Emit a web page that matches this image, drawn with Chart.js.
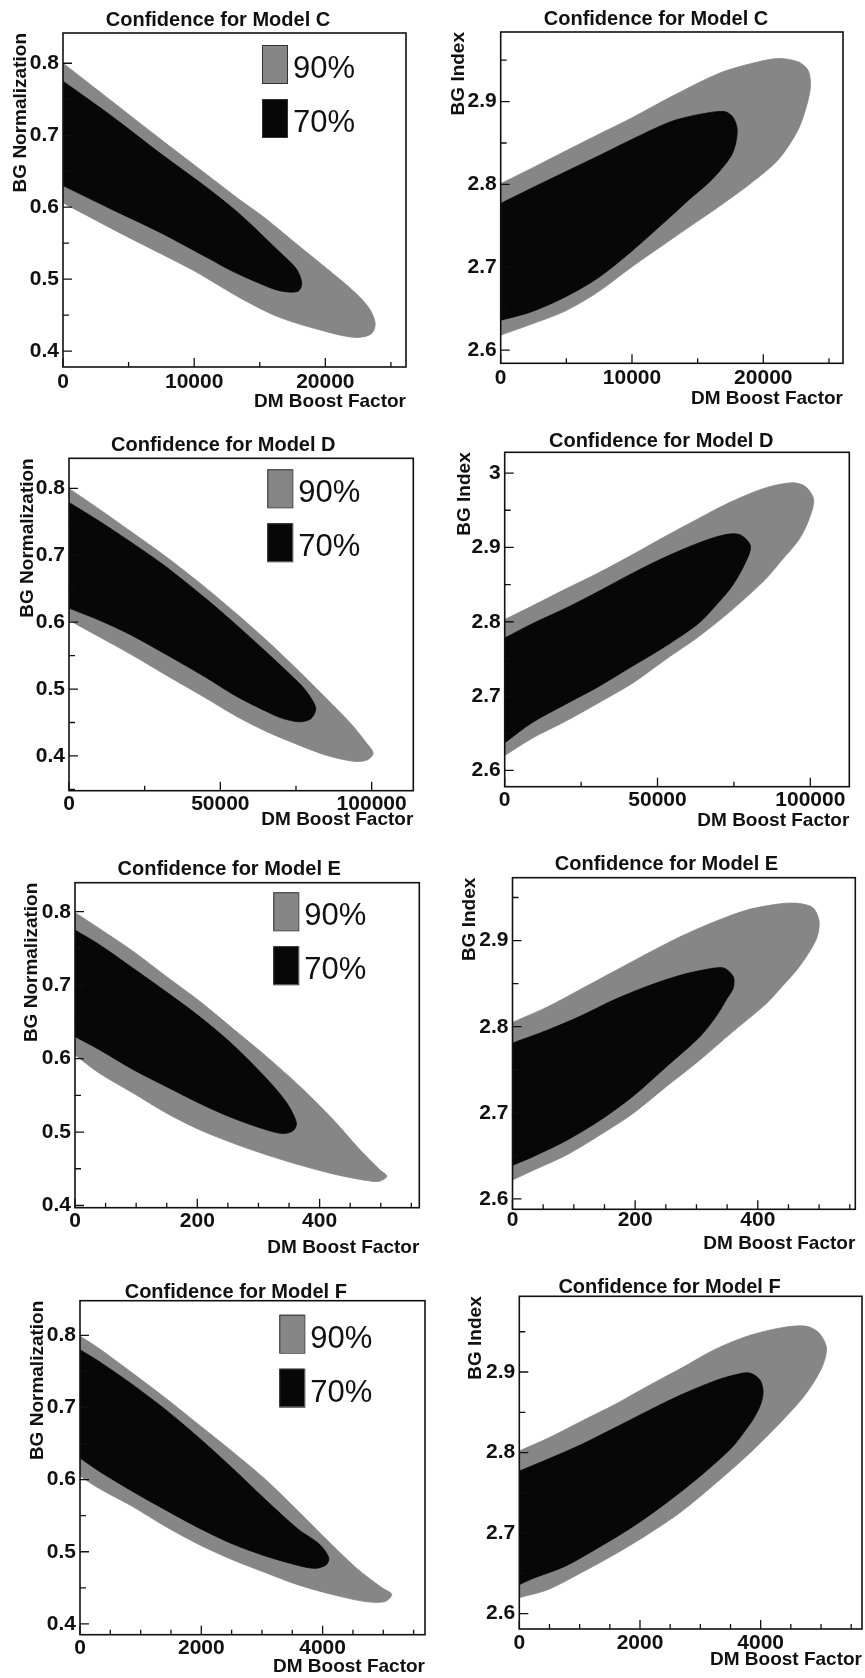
<!DOCTYPE html>
<html>
<head>
<meta charset="utf-8">
<script src="https://cdn.jsdelivr.net/npm/chart.js@4.4.1/dist/chart.umd.min.js"></script>
<style>
  html, body { margin: 0; padding: 0; background: #fff; overflow: hidden; }
  #page { position: relative; width: 865px; height: 1678px; }
  #page canvas { position: absolute; }
</style>
</head>
<body>
<div id="page"></div>
<script>
// contour edges as [DM boost factor, value]: upper edge left->right, then lower edge back to x = 0
const cNorm90 = [[0,0.800],[3600,0.749],[7400,0.695],[11200,0.642],[13500,0.610],[15250,0.587],[17800,0.549],[20300,0.512],[22350,0.480],[23400,0.458],[23800,0.438],
  [23500,0.424],[22350,0.419],[20300,0.426],[16500,0.447],[13500,0.474],[9950,0.512],[4900,0.559],[0,0.606]];
const cNorm70 = [[0,0.775],[3600,0.728],[7400,0.675],[11200,0.624],[13500,0.590],[16500,0.538],[17800,0.514],[18200,0.494],
  [17900,0.483],[16500,0.484],[14750,0.496],[12700,0.513],[11200,0.528],[7400,0.565],[3600,0.598],[0,0.630]];
const cIndex90 = [[0,2.801],[2300,2.819],[4900,2.840],[7400,2.860],[9950,2.880],[13000,2.906],[16600,2.934],[19100,2.946],[21150,2.952],[22650,2.948],[23400,2.938],[23600,2.920],
  [23350,2.898],[22650,2.866],[21150,2.830],[19100,2.802],[16600,2.773],[13200,2.736],[9950,2.700],[7400,2.670],[4900,2.647],[2300,2.631],[0,2.618]];
const cIndex70 = [[0,2.777],[2300,2.795],[4900,2.815],[7400,2.834],[9950,2.854],[13000,2.876],[15300,2.885],[17000,2.888],[17650,2.882],[18000,2.868],
  [17900,2.850],[17500,2.833],[16100,2.806],[14300,2.781],[13000,2.762],[9950,2.719],[7400,2.687],[4900,2.664],[2300,2.646],[0,2.636]];

const dNorm90 = [[0,0.800],[10000,0.769],[20000,0.737],[32000,0.698],[45000,0.652],[55000,0.614],[65000,0.574],[75000,0.531],[85000,0.486],[93000,0.449],[98000,0.421],[100500,0.404],
  [98500,0.394],[94000,0.392],[85000,0.401],[75000,0.418],[65000,0.437],[55000,0.460],[45000,0.487],[32000,0.521],[20000,0.553],[10000,0.578],[0,0.603]];
const dNorm70 = [[0,0.779],[10000,0.751],[20000,0.721],[32000,0.683],[45000,0.636],[55000,0.597],[65000,0.556],[73000,0.522],[78000,0.499],[81500,0.472],
  [80000,0.456],[76000,0.451],[70000,0.457],[65000,0.467],[55000,0.490],[45000,0.518],[32000,0.552],[20000,0.582],[10000,0.603],[0,0.621]];
const dIndex90 = [[0,2.803],[8900,2.821],[19900,2.844],[30800,2.866],[41700,2.890],[52600,2.915],[63500,2.939],[74400,2.962],[85300,2.980],[94000,2.987],[98400,2.982],[101100,2.964],
  [99500,2.937],[96200,2.910],[90700,2.883],[85300,2.857],[74400,2.816],[63500,2.780],[52600,2.749],[41700,2.717],[30800,2.691],[19900,2.666],[8900,2.643],[0,2.620]];
const dIndex70 = [[0,2.778],[8900,2.797],[19900,2.818],[30800,2.841],[41700,2.865],[52600,2.887],[63500,2.906],[72000,2.917],[77000,2.917],[80400,2.902],
  [78700,2.879],[74400,2.848],[68900,2.821],[63500,2.798],[52600,2.767],[41700,2.740],[30800,2.713],[19900,2.689],[8900,2.664],[0,2.637]];

const eNorm90 = [[0,0.799],[40,0.777],[95,0.746],[149,0.712],[204,0.678],[258,0.641],[313,0.603],[368,0.562],[422,0.517],[466,0.476],[498,0.449],[510,0.440],
  [498,0.433],[477,0.434],[422,0.443],[368,0.455],[313,0.469],[258,0.485],[204,0.503],[149,0.526],[95,0.553],[40,0.580],[0,0.605]];
const eNorm70 = [[0,0.775],[40,0.755],[95,0.723],[149,0.691],[204,0.657],[258,0.619],[313,0.573],[346,0.540],[362,0.513],
  [357,0.502],[340,0.498],[313,0.503],[258,0.519],[204,0.539],[149,0.562],[95,0.585],[40,0.612],[0,0.630]];
const eIndex90 = [[0,2.805],[57,2.823],[110,2.843],[165,2.864],[220,2.885],[275,2.905],[330,2.922],[385,2.936],[440,2.943],[468,2.943],[490,2.938],[500,2.922],
  [495,2.901],[468,2.870],[440,2.847],[414,2.827],[359,2.794],[305,2.761],[250,2.730],[196,2.699],[142,2.674],[88,2.651],[33,2.633],[0,2.622]];
const eIndex70 = [[0,2.781],[57,2.796],[110,2.812],[165,2.831],[220,2.847],[275,2.860],[320,2.867],[345,2.868],[360,2.858],
  [360,2.845],[350,2.833],[332,2.812],[305,2.788],[250,2.753],[196,2.719],[142,2.691],[88,2.668],[33,2.649],[0,2.639]];

const fNorm90 = [[0,0.799],[310,0.782],[860,0.748],[1410,0.713],[1960,0.676],[2510,0.639],[3060,0.600],[3600,0.556],[4150,0.510],[4590,0.475],[4980,0.450],[5140,0.441],
  [5030,0.431],[4700,0.431],[4150,0.441],[3600,0.454],[3060,0.471],[2510,0.489],[1960,0.510],[1410,0.535],[860,0.563],[310,0.588],[0,0.605]];
const fNorm70 = [[0,0.780],[310,0.764],[860,0.732],[1410,0.697],[1960,0.658],[2510,0.616],[3060,0.572],[3600,0.531],[3940,0.511],[4100,0.492],
  [4060,0.482],[3880,0.477],[3600,0.481],[3060,0.494],[2510,0.511],[1960,0.533],[1410,0.558],[860,0.584],[310,0.612],[0,0.630]];
const fIndex90 = [[0,2.802],[480,2.818],[1030,2.839],[1590,2.860],[2140,2.883],[2690,2.905],[3240,2.928],[3800,2.945],[4350,2.955],[4740,2.957],[4960,2.949],[5090,2.930],
  [5010,2.905],[4740,2.872],[4350,2.839],[3800,2.798],[3240,2.761],[2690,2.727],[2140,2.699],[1590,2.674],[1030,2.651],[480,2.630],[0,2.620]];
const fIndex70 = [[0,2.777],[480,2.792],[1030,2.810],[1590,2.831],[2140,2.852],[2690,2.872],[3240,2.889],[3500,2.895],[3800,2.899],[3980,2.891],[4040,2.876],
  [4000,2.860],[3880,2.842],[3740,2.827],[3520,2.806],[2970,2.769],[2410,2.736],[1860,2.707],[1310,2.682],[760,2.659],[200,2.643],[0,2.636]];

// labelled ticks
const cTicksX = [0, 10000, 20000];
const dTicksX = [0, 50000, 100000];
const eTicksX = [0, 200, 400];
const fTicksX = [0, 2000, 4000];
const normTicksY = [0.4, 0.5, 0.6, 0.7, 0.8];
const indexTicksY = [2.6, 2.7, 2.8, 2.9];
const indexTicksYD = [2.6, 2.7, 2.8, 2.9, 3];

const levels = ['90%', '70%'];
const xTitle = 'DM Boost Factor';

const GREY = '#868686';
const BLACK = '#070707';
const INK = '#111';
const FONT = "'Liberation Sans', Arial, Helvetica, sans-serif";
const AXIS_LH = 19 * 1.2;
const TICK_LH = 21 * 1.2;

// page layout, in page pixels: cell = [left, top, width], frame = [left, top, right, bottom]
const panels = [
  { model: 'C', yTitle: 'BG Normalization', outer: cNorm90, inner: cNorm70, xTicks: cTicksX, yTicks: normTicksY, xSub: 2,
    cell: [0, 0, 432], frame: [63, 33, 406, 367], x: [0, 26150], y: [0.378, 0.842],
    title: [218, 26], yTitleX: 20.7, xTickY: 382.7, xTitleY: 401.3, legend: [262, 45] },
  { model: 'C', yTitle: 'BG Index', outer: cIndex90, inner: cIndex70, xTicks: cTicksX, yTicks: indexTicksY, xSub: 2,
    cell: [432, 0, 433], frame: [500.7, 32, 843, 363.3], x: [0, 26070], y: [2.584, 2.984],
    title: [656, 24.5], yTitleX: 459, xTickY: 378.3, xTitleY: 398.3 },
  { model: 'D', yTitle: 'BG Normalization', outer: dNorm90, inner: dNorm70, xTicks: dTicksX, yTicks: normTicksY, xSub: 2,
    cell: [0, 420, 432], frame: [69, 458.3, 413.3, 790.7], x: [0, 113760], y: [0.348, 0.845],
    title: [223.3, 451.2], yTitleX: 27.5, xTickY: 803.8, xTitleY: 819.3, legend: [267.3, 469.3] },
  { model: 'D', yTitle: 'BG Index', outer: dIndex90, inner: dIndex70, xTicks: dTicksX, yTicks: indexTicksYD, xSub: 2,
    cell: [432, 420, 433], frame: [504.7, 452.3, 849.3, 786.7], x: [0, 112760], y: [2.578, 3.028],
    title: [661.2, 447.3], yTitleX: 465, xTickY: 800, xTitleY: 820.3 },
  { model: 'E', yTitle: 'BG Normalization', outer: eNorm90, inner: eNorm70, xTicks: eTicksX, yTicks: normTicksY, xSub: 4,
    cell: [0, 840, 432], frame: [75, 882.7, 419.3, 1207.7], x: [0, 563], y: [0.397, 0.8395],
    title: [229.2, 874.5], yTitleX: 32.2, xTickY: 1221.7, xTitleY: 1247.5, legend: [273.3, 892.3] },
  { model: 'E', yTitle: 'BG Index', outer: eIndex90, inner: eIndex70, xTicks: eTicksX, yTicks: indexTicksY, xSub: 4,
    cell: [432, 840, 433], frame: [512.5, 877.7, 855.3, 1209.3], x: [0, 559], y: [2.588, 2.973],
    title: [666.5, 869.8], yTitleX: 469.5, xTickY: 1220, xTitleY: 1243.7 },
  { model: 'F', yTitle: 'BG Normalization', outer: fNorm90, inner: fNorm70, xTicks: fTicksX, yTicks: normTicksY, xSub: 4,
    cell: [0, 1258, 432], frame: [80, 1300.7, 425, 1634.7], x: [0, 5688], y: [0.385, 0.848],
    title: [235.8, 1297.5], yTitleX: 38.2, xTickY: 1648.5, xTitleY: 1667.2, legend: [279.3, 1314.7] },
  { model: 'F', yTitle: 'BG Index', outer: fIndex90, inner: fIndex70, xTicks: fTicksX, yTicks: indexTicksY, xSub: 4,
    cell: [432, 1258, 433], frame: [519.3, 1296.3, 862, 1629], x: [0, 5679], y: [2.581, 2.994],
    title: [669.5, 1292.5], yTitleX: 475.7, xTickY: 1643, xTitleY: 1660.2 },
];

// minor ticks subdividing the labelled ones, continued past both ends
function tickMarks(scale, labelled, sub) {
  const d = (labelled[1] - labelled[0]) / sub, out = [];
  for (let n = Math.ceil((scale.min - labelled[0]) / d - 1e-6); labelled[0] + n * d <= scale.max + 1e-9; n++) {
    out.push({ v: labelled[0] + n * d, major: n % sub === 0 });
  }
  return out;
}

// ROOT-style frame: inward ticks on bottom/left, box, title and in-frame legend
const rootStyle = {
  id: 'rootStyle',
  afterDatasetsDraw(chart, args, o) {
    const { ctx, chartArea: a, scales: { x, y } } = chart;
    ctx.save();
    ctx.strokeStyle = INK;
    ctx.lineWidth = 1.3;
    ctx.beginPath();
    for (const t of tickMarks(x, o.xTicks, o.xSub)) {
      const px = x.getPixelForValue(t.v);
      ctx.moveTo(px, a.bottom);
      ctx.lineTo(px, a.bottom - (t.major ? 9 : 5));
    }
    for (const t of tickMarks(y, o.yTicks, 2)) {
      const py = y.getPixelForValue(t.v);
      ctx.moveTo(a.left, py);
      ctx.lineTo(a.left + (t.major ? 9 : 6), py);
    }
    ctx.stroke();
    ctx.lineWidth = 1.6;
    ctx.strokeRect(a.left, a.top, a.right - a.left, a.bottom - a.top);

    ctx.fillStyle = INK;
    ctx.font = `bold 20px ${FONT}`;
    ctx.textAlign = 'center';
    ctx.textBaseline = 'alphabetic';
    ctx.fillText(o.title, o.titleX, o.titleY);

    if (o.legend) {
      chart.data.datasets.forEach((ds, i) => {
        const bx = o.legend[0], by = o.legend[1] + i * 54;
        ctx.fillStyle = ds.backgroundColor;
        ctx.fillRect(bx, by, 25, 38);
        ctx.lineWidth = 1;
        ctx.strokeStyle = '#333';
        ctx.strokeRect(bx + 0.5, by + 0.5, 25, 38);
        ctx.fillStyle = INK;
        ctx.font = `31px ${FONT}`;
        ctx.textAlign = 'left';
        ctx.fillText(ds.label, bx + 31, by + 33);
      });
    }
    ctx.restore();
  }
};

const fmt = v => String(Math.round(v * 1000) / 1000);

function makePanel(p) {
  const page = document.getElementById('page');
  const canvas = document.createElement('canvas');
  const [cx, cy, W] = p.cell;
  const H = 440;
  canvas.width = W;
  canvas.height = H;
  canvas.style.left = cx + 'px';
  canvas.style.top = cy + 'px';
  page.appendChild(canvas);

  const [fl, ft, fr, fb] = p.frame;
  const xAxisH = p.xTitleY + AXIS_LH / 2 - fb;
  const tickFont = { family: FONT, size: 21, weight: 'bold' };
  const titleFont = { family: FONT, size: 19, weight: 'bold' };
  // lower order is painted last, so the 70% region sits on top of the 90% one
  const area = (label, data, color, order) => ({
    label, data, order, backgroundColor: color, borderColor: color, borderWidth: 0.8,
    fill: 'shape', tension: 0.3, pointRadius: 0
  });

  new Chart(canvas, {
    type: 'line',
    data: { datasets: [area(levels[0], p.outer, GREY, 2), area(levels[1], p.inner, BLACK, 1)] },
    options: {
      responsive: false,
      animation: false,
      events: [],
      layout: { padding: { left: 0, top: ft - cy, right: cx + W - fr, bottom: H - (fb - cy) - xAxisH } },
      scales: {
        x: {
          type: 'linear', min: p.x[0], max: p.x[1],
          afterBuildTicks(s) { s.ticks = p.xTicks.map(value => ({ value })); },
          afterFit(s) { s.height = xAxisH; },
          grid: { display: false, drawTicks: false },
          border: { display: false },
          ticks: { autoSkip: false, maxRotation: 0,
                   padding: p.xTickY - fb - TICK_LH / 2, color: INK, font: tickFont, callback: fmt },
          title: { display: true, text: xTitle, align: 'end', color: INK, font: titleFont, padding: { top: 0, bottom: 0 } }
        },
        y: {
          type: 'linear', min: p.y[0], max: p.y[1],
          afterBuildTicks(s) { s.ticks = p.yTicks.map(value => ({ value })); },
          afterFit(s) { s.width = fl - cx; },
          grid: { display: false, drawTicks: false },
          border: { display: false },
          ticks: { autoSkip: false, padding: 4, color: INK, font: tickFont, callback: fmt },
          title: { display: true, text: p.yTitle, align: 'end', color: INK, font: titleFont,
                   padding: { top: p.yTitleX - cx - AXIS_LH / 2, bottom: 0 } }
        }
      },
      plugins: {
        legend: { display: false },
        tooltip: { enabled: false },
        rootStyle: {
          title: 'Confidence for Model ' + p.model,
          titleX: p.title[0] - cx, titleY: p.title[1] - cy,
          xTicks: p.xTicks, yTicks: p.yTicks, xSub: p.xSub,
          legend: p.legend ? [p.legend[0] - cx, p.legend[1] - cy] : null
        }
      }
    },
    plugins: [rootStyle]
  });
}

panels.forEach(makePanel);
</script>
</body>
</html>
